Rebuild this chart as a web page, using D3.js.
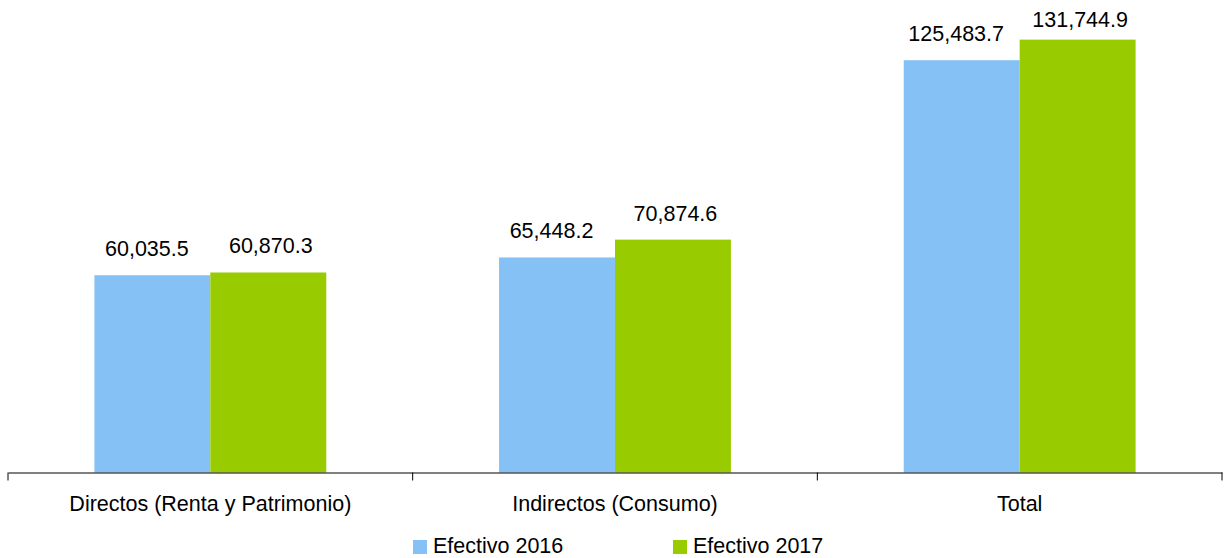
<!DOCTYPE html>
<html>
<head>
<meta charset="utf-8">
<script src="https://cdn.jsdelivr.net/npm/d3@7"></script>
<style>
  body { margin: 0; background: #fff; }
  text { font-family: "Liberation Sans", Arial, sans-serif; fill: #000; }
</style>
</head>
<body>
<div id="chart"></div>
<script>
// Datos
const categories = ["Directos (Renta y Patrimonio)", "Indirectos (Consumo)", "Total"];
const series = ["Efectivo 2016", "Efectivo 2017"];
const values2016 = [60035.5, 65448.2, 125483.7];
const values2017 = [60870.3, 70874.6, 131744.9];
const colors = ["#85C1F5", "#99CC00"];

const width = 1225;
const height = 558;
const baseY = 472.5;
const fontSize = "21.5px";

const svg = d3.select("#chart")
  .append("svg")
  .attr("width", width)
  .attr("height", height);

const x0 = d3.scaleBand()
  .domain(categories)
  .range([8, 1222]);

const bw = x0.bandwidth();
const x1 = d3.scaleBand()
  .domain(series)
  .range([bw * 0.2135, bw * 0.7865]);

const y = d3.scaleLinear()
  .domain([0, 140000])
  .range([baseY, 12.5]);

const fmt = d3.format(",.1f");

const rows = categories.map((c, i) => ({
  cat: c,
  vals: [
    { s: series[0], v: values2016[i] },
    { s: series[1], v: values2017[i] },
  ],
}));

const groups = svg.selectAll("g.grp")
  .data(rows)
  .enter()
  .append("g")
  .attr("class", "grp")
  .attr("transform", (d) => `translate(${x0(d.cat)},0)`);

groups.selectAll("rect")
  .data((d) => d.vals)
  .enter()
  .append("rect")
  .attr("x", (d) => x1(d.s))
  .attr("y", (d) => y(d.v))
  .attr("width", x1.bandwidth())
  .attr("height", (d) => y(0) - y(d.v))
  .attr("fill", (d, i) => colors[i]);

// Etiquetas de valores (se mantienen dentro del área del gráfico)
groups.selectAll("text.val")
  .data((d) => d.vals)
  .enter()
  .append("text")
  .attr("class", "val")
  .attr("x", (d, i) => x1(d.s) + x1.bandwidth() / 2 + (i === 0 ? -5.5 : 2.5))
  .attr("y", (d) => Math.max(y(d.v) - 19, 27))
  .attr("text-anchor", "middle")
  .style("font-size", fontSize)
  .text((d) => fmt(d.v));

// Eje X
const xAxis = d3.axisBottom(x0).tickSize(0).tickPadding(23);
const ax = svg.append("g")
  .attr("transform", `translate(0,${baseY})`)
  .call(xAxis);
ax.select(".domain").attr("stroke", "#000").attr("stroke-width", 1);
ax.selectAll(".tick text")
  .style("font-size", fontSize)
  .style("font-family", '"Liberation Sans", Arial, sans-serif')
  .attr("fill", "#000");

// Marcas entre categorías
const bounds = categories.map((c) => x0(c)).concat([x0.range()[1]]);
ax.selectAll("line.sep")
  .data(bounds)
  .enter()
  .append("line")
  .attr("class", "sep")
  .attr("x1", (d) => d)
  .attr("x2", (d) => d)
  .attr("y1", 0)
  .attr("y2", 8)
  .attr("stroke", "#000");

// Leyenda
const legendX = [413, 673];
const legend = svg.selectAll("g.leg")
  .data(series)
  .enter()
  .append("g")
  .attr("class", "leg")
  .attr("transform", (d, i) => `translate(${legendX[i]},539)`);

legend.append("rect")
  .attr("y", 1)
  .attr("width", 14)
  .attr("height", 14)
  .attr("fill", (d, i) => colors[i]);

legend.append("text")
  .attr("x", 20)
  .attr("y", 14)
  .style("font-size", fontSize)
  .text((d) => d);
</script>
</body>
</html>
